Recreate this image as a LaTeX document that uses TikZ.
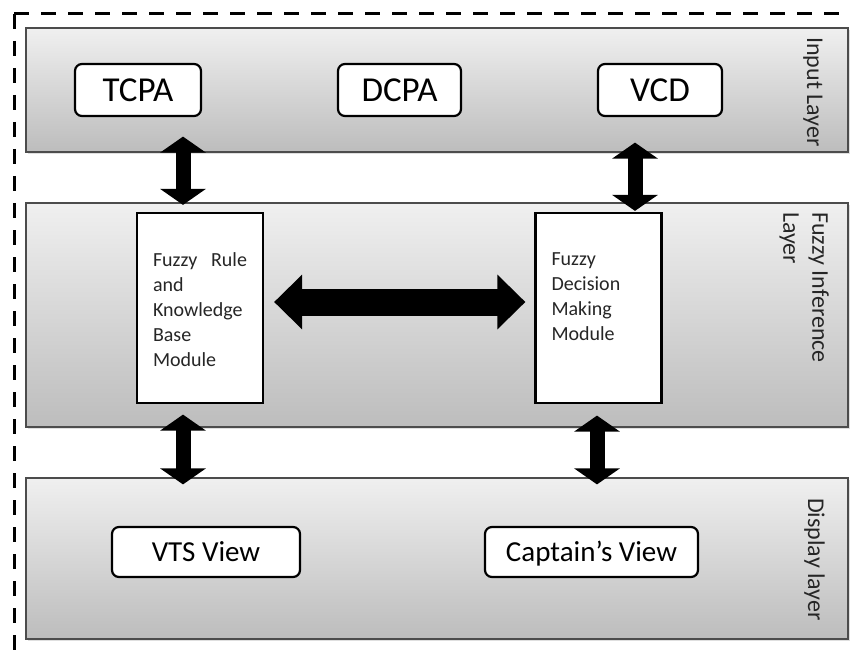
\documentclass[tikz,border=0pt]{standalone}
\usepackage{fontspec}
\setmainfont{Carlito}
\usetikzlibrary{arrows.meta,shadows,calc}

\newcommand{\modtext}[1]{\parbox[c][110pt][t]{94pt}{#1}}

\begin{document}
\begin{tikzpicture}[x=1pt, y=1pt,
  layer/.style={draw=black!70, line width=1.2pt, top color=black!6, bottom color=black!26,
    minimum width=822pt, inner sep=0pt,
    drop shadow={opacity=0.25, shadow xshift=2pt, shadow yshift=-2pt}},
  inbox/.style={draw, fill=white, line width=2.2pt, rounded corners=7pt, inner sep=0pt},
  module/.style={draw, fill=white, line width=2.2pt, minimum width=126pt, minimum height=190pt,
    inner sep=0pt, text=black!85, font=\fontsize{20}{25}\selectfont},
  vbig/.style={line width=15pt, {Triangle[width=45pt,length=16pt]}-{Triangle[width=45pt,length=16pt]}},
  hbig/.style={line width=27pt, {Triangle[width=53pt,length=28pt]}-{Triangle[width=53pt,length=28pt]}},
  side/.style={rotate=-90, inner sep=0pt, text=black!85, font=\fontsize{24}{29}\selectfont}]

\useasboundingbox (0, 0) rectangle (850, 649);

% outer frame
\draw[line width=3pt, dash pattern=on 15pt off 12pt] (14, 635) -- (14, -10);
\draw[line width=3pt, dash pattern=on 15pt off 12pt] (14, 635) -- (860, 635);

% layers
\node[layer, minimum height=124pt] (input) at (437, 559) {};
\node[layer, minimum height=224pt] (fuzzy) at (437, 334) {};
\node[layer, minimum height=161pt] (display) at (437, 90.5) {};

\node[side, anchor=base west] (inlabel) at (807, 612) {Input Layer};
\node[side, anchor=north west, align=left] (fuzlabel) at (829, 437) {Fuzzy Inference\\Layer};
\node[side, anchor=base west] (displabel) at (808, 151) {Display layer};

% input layer
\node[inbox, minimum width=126pt, minimum height=52pt, font=\fontsize{35}{42}\selectfont] (tcpa) at (138, 559) {TCPA};
\node[inbox, minimum width=123pt, minimum height=52pt, font=\fontsize{35}{42}\selectfont] (dcpa) at (399.5, 559) {DCPA};
\node[inbox, minimum width=124pt, minimum height=52pt, font=\fontsize{35}{42}\selectfont] (vcd) at (660, 559) {VCD};

% fuzzy inference layer
\node[module] (rule) at (200, 341)
    {\modtext{\makebox[94pt][s]{Fuzzy Rule}\\and\\Knowledge\\Base\\Module}};
\node[module] (decision) at (598.5, 341)
    {\modtext{Fuzzy\\Decision\\Making\\Module}};

% display layer
\node[inbox, minimum width=188pt, minimum height=50pt, text height=22pt, text depth=3.3pt,
      font=\fontsize{29}{35}\selectfont] (vts) at (206, 97) {VTS View};
\node[inbox, minimum width=213pt, minimum height=50pt, text height=22pt, text depth=3.3pt,
      font=\fontsize{29}{35}\selectfont] (captain) at (591.5, 97) {Captain’s View};

% arrows
\draw[vbig] ($(rule.north |- input.south)+(-17,16)$) -- ($(rule.north)+(-17,7)$);
\draw[vbig] ($(decision.north |- input.south)+(36.5,10)$) -- ($(decision.north)+(36.5,1)$);
\draw[hbig] ($(rule.east)+(10,6)$) -- ($(decision.west)+(-9,6)$);
\draw[vbig] ($(rule.south |- fuzzy.south)+(-17,13)$) -- ($(rule.south |- display.north)+(-17,-7)$);
\draw[vbig] ($(decision.south |- fuzzy.south)+(-1.5,12)$) -- ($(decision.south |- display.north)+(-1.5,-7)$);

\end{tikzpicture}
\end{document}
